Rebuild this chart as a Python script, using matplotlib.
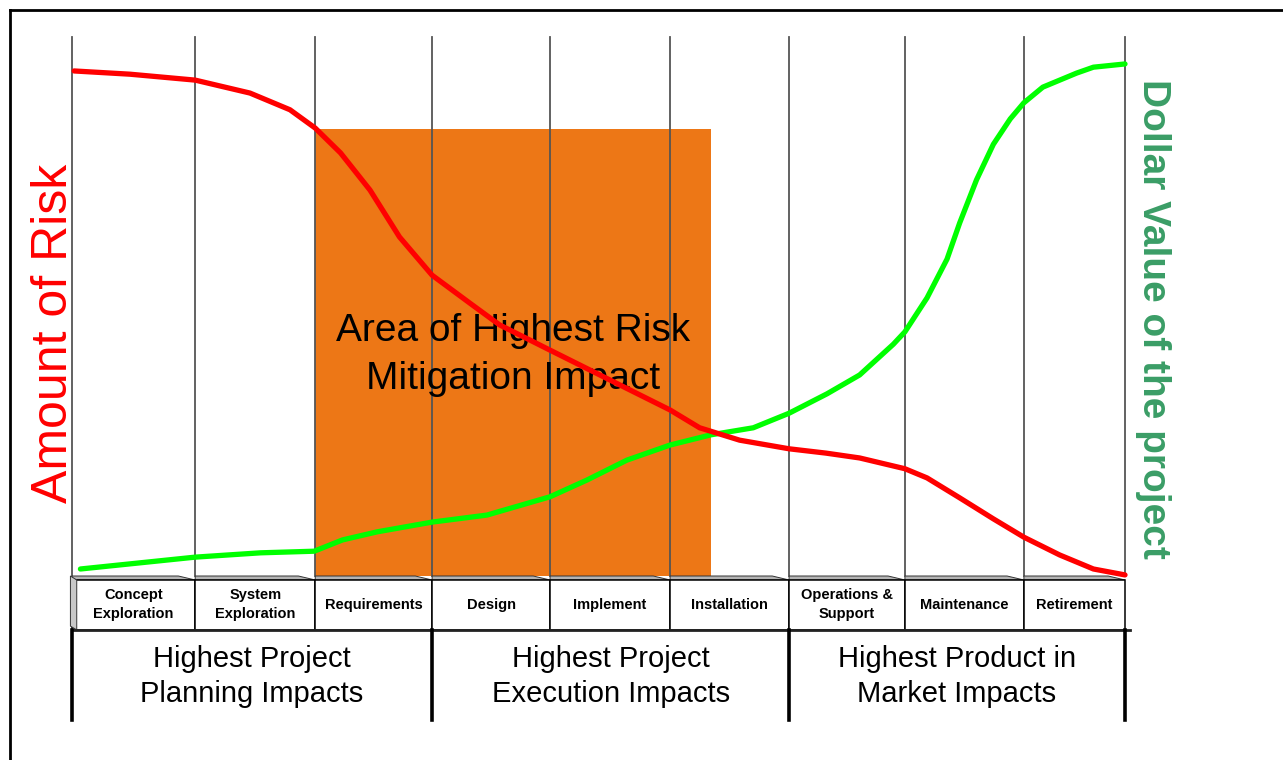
import matplotlib
matplotlib.use("Agg")
import matplotlib.pyplot as plt
from matplotlib.patches import Rectangle, Polygon
from matplotlib.lines import Line2D

plt.rcParams['font.family'] = ['Liberation Sans', 'DejaVu Sans']

# lifecycle position (% of project life) and level (% of max)
risk_x = [0.2, 5.5, 11.7, 16.9, 20.7, 23.1, 25.5, 28.3, 31.1, 34.2, 37.8, 40.6,
          45.4, 49.2, 53.0, 56.8, 59.6, 63.4, 68.1, 71.6, 74.8, 79.1, 81.2,
          84.3, 87.5, 90.4, 93.8, 97.0, 100.0]
risk_y = [93.7, 93.1, 92.0, 89.6, 86.5, 83.1, 78.5, 71.6, 62.9, 55.8, 50.6, 46.6,
          41.9, 38.2, 34.5, 30.8, 27.5, 25.2, 23.6, 22.8, 21.9, 19.9, 18.2,
          14.5, 10.6, 7.2, 3.9, 1.3, 0.2]

value_x = [0.8, 11.7, 17.9, 23.0, 25.7, 29.0, 34.2, 39.4, 45.4, 48.9, 52.7, 56.8,
           60.7, 64.7, 68.1, 71.7, 74.8, 78.0, 79.1, 81.2, 83.1, 84.3, 85.9,
           87.5, 89.1, 90.4, 92.2, 95.4, 97.0, 100.0]
value_y = [1.3, 3.5, 4.3, 4.6, 6.7, 8.2, 10.0, 11.3, 14.7, 17.8, 21.5, 24.3,
           26.2, 27.5, 30.2, 33.8, 37.3, 43.0, 45.3, 51.6, 58.8, 65.5, 73.5,
           80.1, 84.8, 87.8, 90.7, 93.3, 94.4, 95.0]

stage_edges = [0, 11.7, 23.1, 34.2, 45.4, 56.8, 68.1, 79.1, 90.4, 100]
stages = ["Concept\nExploration", "System\nExploration", "Requirements", "Design",
          "Implement", "Installation", "Operations &\nSupport", "Maintenance",
          "Retirement"]
phases = ["Highest Project\nPlanning Impacts", "Highest Project\nExecution Impacts",
          "Highest Product in\nMarket Impacts"]
phase_edges = [0, 34.2, 68.1, 100]

mitigation_span = (23.1, 60.7)
mitigation_top = 82.9

fig = plt.figure(figsize=(12.83, 7.60), dpi=100)
ax = fig.add_axes([0, 0, 1, 1])
sx, sy = 10.53, 5.39  # pixels per unit
ax.set_xlim(-72 / sx, (1283 - 72) / sx)
ax.set_ylim((576 - 760) / sy, 576 / sy)
ax.axis('off')

# outer frame (top and left)
fig.add_artist(Line2D([10 / 1283, 1], [1 - 10 / 760] * 2, color='black', lw=2,
                      transform=fig.transFigure))
fig.add_artist(Line2D([10 / 1283] * 2, [0, 1 - 10 / 760], color='black', lw=2,
                      transform=fig.transFigure))

# orange mitigation area
ax.add_patch(Rectangle((mitigation_span[0], 0), mitigation_span[1] - mitigation_span[0],
                       mitigation_top, facecolor='#ED7716', edgecolor='none', zorder=1))
ax.text(sum(mitigation_span) / 2, 41.0, "Area of Highest Risk\nMitigation Impact",
        ha='center', va='center', fontsize=28, color='black', linespacing=1.45, zorder=3)

# stage grid lines
for e in stage_edges:
    ax.plot([e, e], [0, 100], color='#555555', lw=1.3, zorder=2)

# curves
ax.plot(value_x, value_y, color='#00FF00', lw=3.8, solid_capstyle='round',
        solid_joinstyle='round', zorder=5)
ax.plot(risk_x, risk_y, color='#FF0000', lw=3.8, solid_capstyle='round',
        solid_joinstyle='round', zorder=6)

ax.text(-1.7, 45.1, "Amount of Risk", rotation=90, ha='center', va='center',
        fontsize=36, color='#FF0000')
ax.text(102.7, 47.7, "Dollar Value of the project", rotation=-90, ha='center',
        va='center', fontsize=28, fontweight='bold', color='#3A9D66')

# stage boxes
strip = 0.74
box_bottom = -10.0
for i, label in enumerate(stages):
    x0, x1 = stage_edges[i], stage_edges[i + 1]
    ax.add_patch(Polygon([(x0, 0), (x1 - 1.6, 0), (x1, -strip), (x0, -strip)],
                         closed=True, facecolor='#B4B4B4', edgecolor='#333333',
                         lw=0.7, zorder=4))
    ax.add_patch(Rectangle((x0, box_bottom), x1 - x0, box_bottom * -1 - strip,
                           facecolor='white', edgecolor='black', lw=1.1, zorder=4))
    ax.text((x0 + x1) / 2, (box_bottom - strip) / 2, label, ha='center', va='center',
            fontsize=10.5, fontweight='bold', linespacing=1.45, zorder=5)

ax.add_patch(Polygon([(-0.15, 0), (0.45, -strip), (0.45, box_bottom), (-0.15, box_bottom + 0.7)],
                     closed=True, facecolor='#C8C8C8', edgecolor='#333333', lw=0.7, zorder=4))

# phase band
ax.plot([0, 100.5], [box_bottom, box_bottom], color='#222222', lw=2, zorder=5)
for e in phase_edges:
    ax.plot([e, e], [box_bottom, -26.7], color='black', lw=2.6, zorder=5)
for i, label in enumerate(phases):
    ax.text((phase_edges[i] + phase_edges[i + 1]) / 2, -18.6, label, ha='center',
            va='center', fontsize=21, linespacing=1.3)

fig.savefig("out.png", dpi=100)
